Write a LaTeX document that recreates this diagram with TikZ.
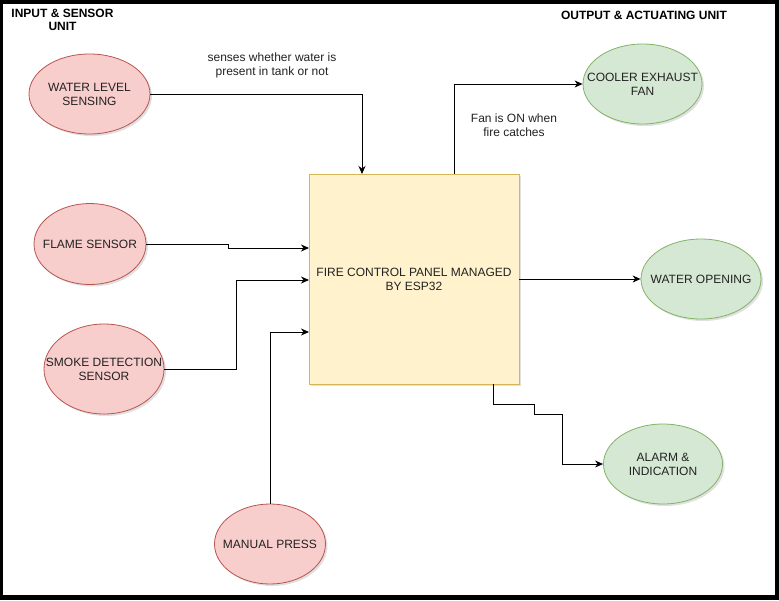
\documentclass[tikz,border=0pt]{standalone}
\usepackage{fontspec}
\setmainfont{Liberation Sans}
\usetikzlibrary{shapes.geometric,arrows.meta,shadows}
\definecolor{redfill}{HTML}{F8CECC}
\definecolor{redline}{HTML}{B85450}
\definecolor{greenfill}{HTML}{D5E8D4}
\definecolor{greenline}{HTML}{82B366}
\definecolor{boxfill}{HTML}{FFF2CC}
\definecolor{boxline}{HTML}{D6B656}
\definecolor{txt}{HTML}{222222}
\tikzset{
  every node/.style={font=\fontsize{12}{14}\selectfont, text=txt, align=center, inner sep=0pt},
  shade/.style={drop shadow={shadow xshift=2pt, shadow yshift=-2pt, opacity=0.12, fill=black}},
  inell/.style={ellipse, draw=redline, fill=redfill, line width=0.8pt, shade},
  outell/.style={ellipse, draw=greenline, fill=greenfill, line width=0.8pt, shade},
  panel/.style={rectangle, draw=boxline, fill=boxfill, line width=0.8pt, minimum width=210pt, minimum height=210pt, shade},
  title/.style={font=\bfseries\fontsize{12}{13}\selectfont, text=black},
  note/.style={font=\fontsize{12}{14}\selectfont},
  conn/.style={draw=black, line width=0.9pt},
  arr/.style={conn, -{Stealth[length=8pt, width=7pt, inset=2.5pt]}}
}
\begin{document}
\begin{tikzpicture}[x=1pt, y=-1pt]
\useasboundingbox (0,0) rectangle (779,600);
\fill[black] (0,0) rectangle (779,600);
\fill[white] (3,4) rectangle (775,595);

% titles and notes
\node[title] (tin) at (62.5,19.5) {INPUT \& SENSOR\\UNIT};
\node[title] (tout) at (644,15) {OUTPUT \& ACTUATING UNIT};
\node[note] (n1) at (272,65) {senses whether water is\\present in tank or not};
\node[note] (n2) at (514,125) {Fan is ON when\\fire catches};

% main panel
\node[panel] (box) at (414,279) {FIRE CONTROL PANEL MANAGED\\BY ESP32};

% inputs
\node[inell, minimum width=121pt, minimum height=80pt, label={[align=center]center:WATER LEVEL\\SENSING}] (wl) at (89.5,94) {};
\node[inell, minimum width=112pt, minimum height=81pt, label={[align=center]center:FLAME SENSOR}] (fl) at (90,244) {};
\node[inell, minimum width=120pt, minimum height=90pt, label={[align=center]center:SMOKE DETECTION\\SENSOR}] (sm) at (104,369) {};
\node[inell, minimum width=111pt, minimum height=80pt, label={[align=center]center:MANUAL PRESS}] (mp) at (270,544) {};

% outputs
\node[outell, minimum width=119pt, minimum height=80pt, label={[align=center]center:COOLER EXHAUST\\FAN}] (cf) at (642.5,84) {};
\node[outell, minimum width=120pt, minimum height=80pt, label={[align=center]center:WATER OPENING}] (wo) at (701,279) {};
\node[outell, minimum width=119pt, minimum height=80pt, label={[align=center]center:ALARM \&\\INDICATION}] (al) at (663,464) {};

% connection points on the panel
\coordinate (wlin) at (362,174);
\coordinate (flin) at (309,248);
\coordinate (smin) at (309,280);
\coordinate (mpin) at (309,332);
\coordinate (cfout) at (454,174);
\coordinate (alout) at (493,384);

% connectors
\draw[arr] (wl.east) -| (wlin);
\draw[arr] (fl.east) -- ++(82,0) |- (flin);
\draw[arr] (sm.east) -- ++(72.5,0) |- (smin);
\draw[arr] (mp.north) |- (mpin);
\draw[arr] (cfout) |- (cf.west);
\draw[arr] (box.east) -- (wo.west);
\draw[arr] (alout) -- ++(0,20) -- ++(41,0) -- ++(0,10) -- ++(28,0) |- (al.west);
\end{tikzpicture}
\end{document}
